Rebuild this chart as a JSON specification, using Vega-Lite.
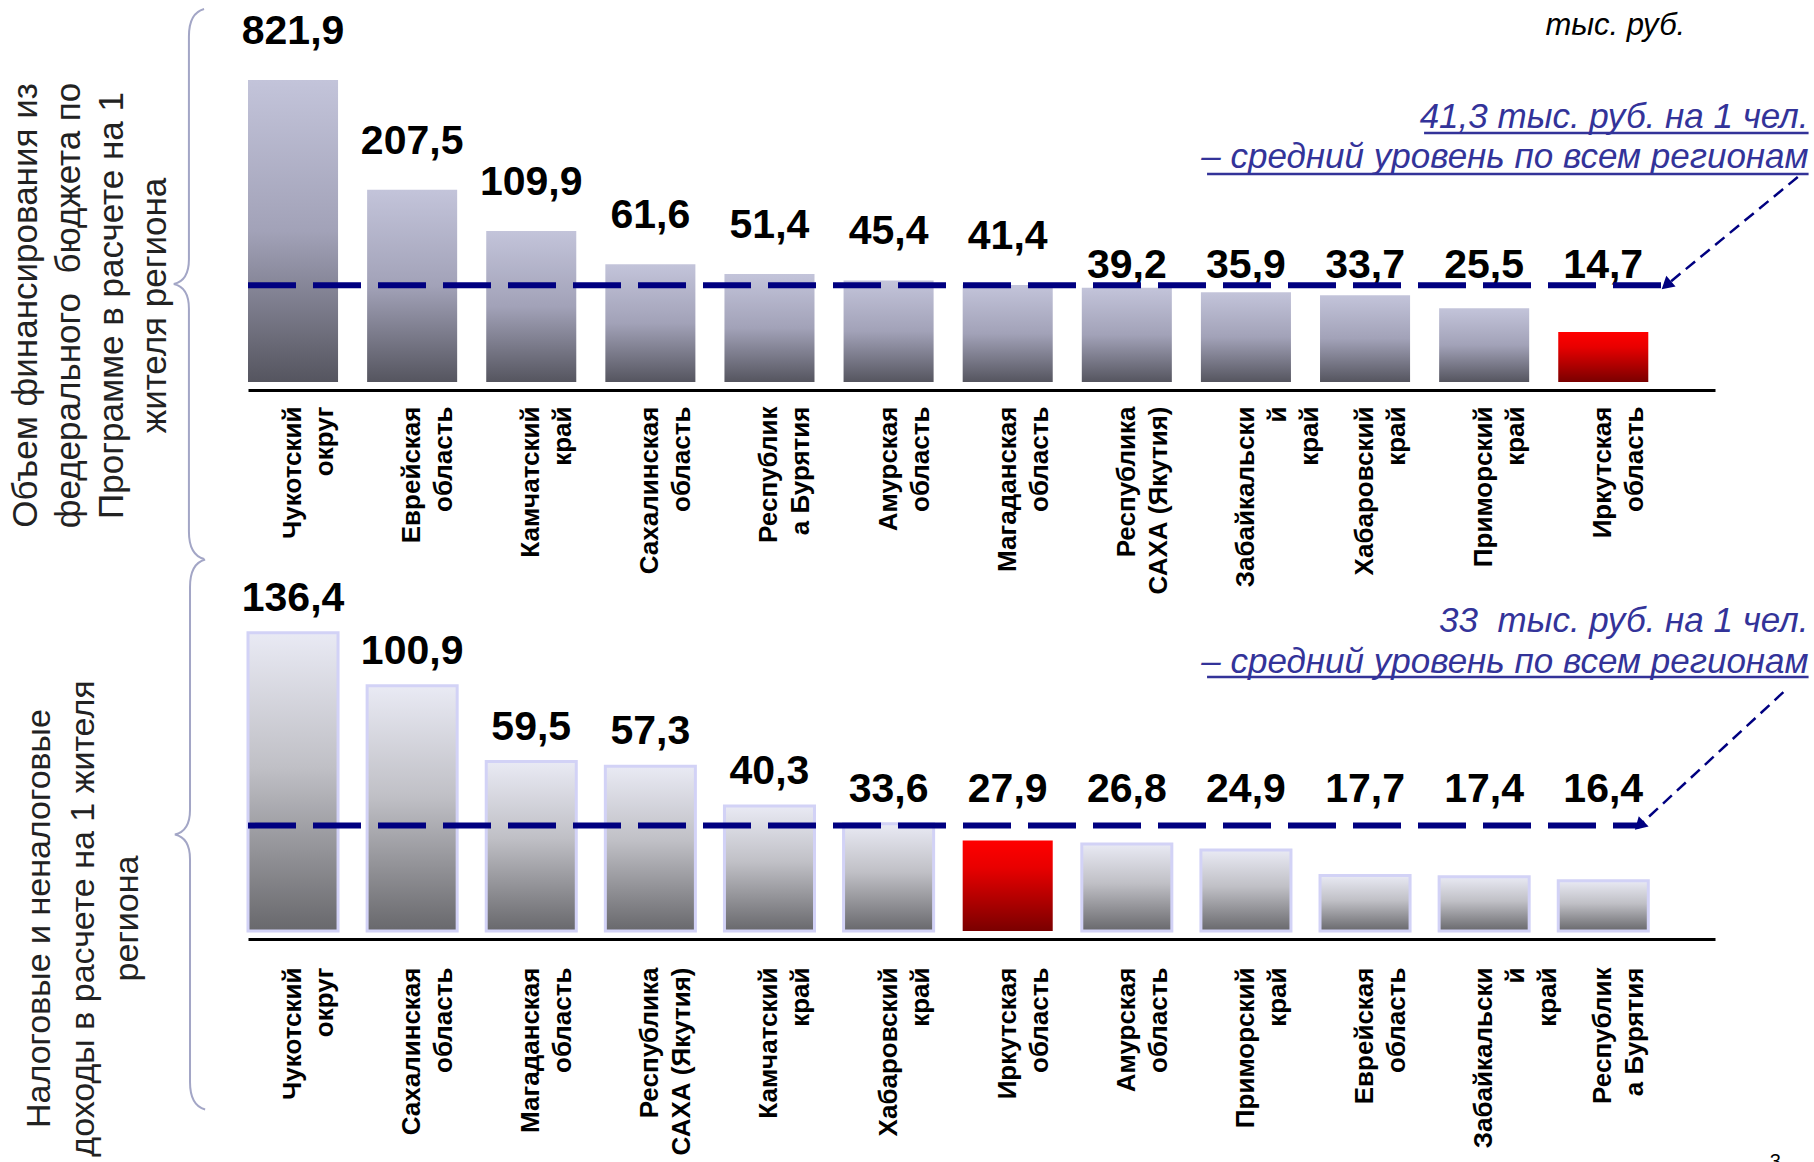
{
  "$schema": "https://vega.github.io/schema/vega-lite/v6.json",
  "background": "white",
  "padding": {"left": 7, "top": 4, "right": 5, "bottom": 5},
  "bounds": "flush",
  "spacing": 233,
  "config": {
    "view": {"stroke": null},
    "font": "Liberation Sans",
    "locale": {"number": {"decimal": ",", "thousands": " ", "grouping": [3], "currency": ["", ""]}}
  },
  "datasets": {
    "top": [
      {"region": "Чукотский округ", "value": 821.9},
      {"region": "Еврейская область", "value": 207.5},
      {"region": "Камчатский край", "value": 109.9},
      {"region": "Сахалинская область", "value": 61.6},
      {"region": "Республика Бурятия", "value": 51.4},
      {"region": "Амурская область", "value": 45.4},
      {"region": "Магаданская область", "value": 41.4},
      {"region": "Республика САХА (Якутия)", "value": 39.2},
      {"region": "Забайкальский край", "value": 35.9},
      {"region": "Хабаровский край", "value": 33.7},
      {"region": "Приморский край", "value": 25.5},
      {"region": "Иркутская область", "value": 14.7}
    ],
    "bottom": [
      {"region": "Чукотский округ", "value": 136.4},
      {"region": "Сахалинская область", "value": 100.9},
      {"region": "Магаданская область", "value": 59.5},
      {"region": "Республика САХА (Якутия)", "value": 57.3},
      {"region": "Камчатский край", "value": 40.3},
      {"region": "Хабаровский край", "value": 33.6},
      {"region": "Иркутская область", "value": 27.9},
      {"region": "Амурская область", "value": 26.8},
      {"region": "Приморский край", "value": 24.9},
      {"region": "Еврейская область", "value": 17.7},
      {"region": "Забайкальский край", "value": 17.4},
      {"region": "Республика Бурятия", "value": 16.4}
    ],
    "topAvg": [{"avg": 41.3}],
    "bottomAvg": [{"avg": 33}]
  },
  "vconcat": [
    {
      "width": 1467,
      "height": 316,
      "layer": [
        {
          "data": {"name": "top"},
          "transform": [{"filter": "datum.region !== 'Иркутская область'"}],
          "mark": {"type": "bar", "fill": {"gradient": "linear", "x1": 0, "y1": 0, "x2": 0, "y2": 1, "stops": [{"offset": 0, "color": "#c3c4da"}, {"offset": 0.5, "color": "#a2a2b8"}, {"offset": 1, "color": "#55555f"}]}},
          "encoding": {
            "x": {
              "field": "region", "type": "nominal",
              "scale": {"domain": ["Чукотский округ", "Еврейская область", "Камчатский край", "Сахалинская область", "Республика Бурятия", "Амурская область", "Магаданская область", "Республика САХА (Якутия)", "Забайкальский край", "Хабаровский край", "Приморский край", "Иркутская область"], "paddingInner": 0.244, "paddingOuter": 0.28, "align": 0},
              "axis": {"title": null, "labelAngle": 270, "labelAlign": "right", "labelBaseline": "middle", "labelFont": "Liberation Sans", "labelFontSize": 26, "labelFontWeight": "bold", "labelColor": "black", "labelLineHeight": 32, "labelPadding": 16, "labelLimit": 0, "labelOverlap": false, "labelFlush": false, "ticks": false, "domainColor": "black", "domainWidth": 3, "offset": 8,
                "labelExpr": "datum.value == 'Республика Бурятия' ? ['Республик', 'а Бурятия'] : datum.value == 'Забайкальский край' ? ['Забайкальски', 'й', 'край'] : datum.value == 'Республика САХА (Якутия)' ? ['Республика', 'САХА (Якутия)'] : split(datum.value, ' ')"}
            },
            "y": {
              "field": "value", "type": "quantitative",
              "scale": {"type": "pow", "exponent": 0.2, "domain": [3.6, 955.5], "nice": false, "zero": false},
              "axis": {"title": ["Объем финансирования из", "федерального\u00a0 бюджета по", "Программе в расчете на 1", "жителя региона"], "domain": false, "ticks": false, "labels": false, "grid": false, "titleAngle": 270, "titleX": -240, "titleY": 239, "titleAlign": "center", "titleBaseline": "top", "titleFontSize": 35, "titleFontWeight": "normal", "titleColor": "#222222", "titleLineHeight": 43, "titleFont": "Liberation Sans"}
            },
            "y2": {"datum": 3.6}
          }
        },
        {
          "data": {"name": "top"},
          "transform": [{"filter": "datum.region === 'Иркутская область'"}],
          "mark": {"type": "bar", "fill": {"gradient": "linear", "x1": 0, "y1": 0, "x2": 0, "y2": 1, "stops": [{"offset": 0, "color": "#ff0000"}, {"offset": 0.3, "color": "#e80000"}, {"offset": 1, "color": "#7a0000"}]}},
          "encoding": {"x": {"field": "region", "type": "nominal"}, "y": {"field": "value", "type": "quantitative"}, "y2": {"datum": 3.6}}
        },
        {
          "data": {"name": "top"},
          "transform": [{"filter": "datum.value >= 41.3"}],
          "mark": {"type": "text", "fontSize": 41, "fontWeight": "bold", "baseline": "alphabetic", "dy": -36, "color": "black", "font": "Liberation Sans"},
          "encoding": {"x": {"field": "region", "type": "nominal"}, "y": {"field": "value", "type": "quantitative"}, "text": {"field": "value", "type": "quantitative", "format": ".1f"}}
        },
        {
          "data": {"name": "top"},
          "transform": [{"filter": "datum.value < 41.3"}],
          "mark": {"type": "text", "fontSize": 41, "fontWeight": "bold", "baseline": "alphabetic", "dy": -7, "color": "black", "font": "Liberation Sans"},
          "encoding": {"x": {"field": "region", "type": "nominal"}, "y": {"datum": 41.3}, "text": {"field": "value", "type": "quantitative", "format": ".1f"}}
        },
        {
          "data": {"name": "topAvg"},
          "mark": {"type": "rule", "color": "#000080", "strokeWidth": 6, "strokeDash": [48, 17]},
          "encoding": {"x": {"datum": "Чукотский округ", "bandPosition": 0}, "x2": {"datum": "Иркутская область", "bandPosition": 1.2}, "y": {"field": "avg", "type": "quantitative"}}
        },
        {
          "data": {"values": [{}]},
          "mark": {"type": "rule", "color": "#000080", "strokeWidth": 2.5, "strokeDash": [12, 7]},
          "encoding": {"x": {"datum": "Иркутская область", "bandPosition": 2.66}, "y": {"datum": 248.4}, "x2": {"datum": "Иркутская область", "bandPosition": 1.2}, "y2": {"datum": 41.3}}
        },
        {
          "data": {"values": [{}]},
          "mark": {"type": "point", "shape": "triangle-up", "filled": true, "color": "#000080", "size": 200, "angle": 229, "opacity": 1},
          "encoding": {"x": {"datum": "Иркутская область", "bandPosition": 1.2}, "y": {"datum": 41.3}}
        },
        {
          "data": {"values": [{}]},
          "mark": {"type": "text", "align": "right", "baseline": "alphabetic", "fontSize": 35, "fontStyle": "italic", "color": "#333399", "lineHeight": 40, "font": "Liberation Sans"},
          "encoding": {"x": {"datum": "Иркутская область", "bandPosition": 2.78}, "y": {"datum": 471.1}, "text": {"value": ["41,3 тыс. руб. на 1 чел.", "– средний уровень по всем регионам"]}}
        },
        {
          "data": {"values": [{}]},
          "mark": {"type": "rule", "color": "#333399", "strokeWidth": 2.5},
          "encoding": {"x": {"datum": "Иркутская область", "bandPosition": -1.49}, "x2": {"datum": "Иркутская область", "bandPosition": 2.78}, "y": {"datum": 442.9}}
        },
        {
          "data": {"values": [{}]},
          "mark": {"type": "rule", "color": "#333399", "strokeWidth": 2.5},
          "encoding": {"x": {"datum": "Иркутская область", "bandPosition": -3.9}, "x2": {"datum": "Иркутская область", "bandPosition": 2.78}, "y": {"datum": 259}}
        },
        {
          "data": {"values": [{}]},
          "mark": {"type": "text", "align": "right", "baseline": "alphabetic", "fontSize": 31, "fontStyle": "italic", "color": "black", "font": "Liberation Sans"},
          "encoding": {"x": {"datum": "Иркутская область", "bandPosition": 1.41}, "y": {"datum": 1315.4}, "text": {"value": "тыс. руб."}}
        },
        {
          "data": {"values": [{}]},
          "mark": {"type": "point", "shape": "M0.055,-1Q0,-0.985 0,-0.9L0,-0.09Q0,-0.012 -0.055,0Q0,0.012 0,0.09L0,0.9Q0,0.985 0.055,1", "filled": false, "stroke": "#a3a6c6", "strokeWidth": 2, "size": 302500, "opacity": 1},
          "encoding": {"x": {"datum": "Чукотский округ", "bandPosition": -0.656}, "y": {"datum": 42.3}}
        }
      ]
    },
    {
      "width": 1467,
      "height": 316,
      "layer": [
        {
          "data": {"name": "bottom"},
          "transform": [{"filter": "datum.region !== 'Иркутская область'"}],
          "mark": {"type": "bar", "stroke": "#d2d2f6", "strokeWidth": 3, "fill": {"gradient": "linear", "x1": 0, "y1": 0, "x2": 0, "y2": 1, "stops": [{"offset": 0, "color": "#e9eaf4"}, {"offset": 0.45, "color": "#c0c0c6"}, {"offset": 1, "color": "#68686c"}]}},
          "encoding": {
            "x": {
              "field": "region", "type": "nominal",
              "scale": {"domain": ["Чукотский округ", "Сахалинская область", "Магаданская область", "Республика САХА (Якутия)", "Камчатский край", "Хабаровский край", "Иркутская область", "Амурская область", "Приморский край", "Еврейская область", "Забайкальский край", "Республика Бурятия"], "paddingInner": 0.244, "paddingOuter": 0.28, "align": 0},
              "axis": {"title": null, "labelAngle": 270, "labelAlign": "right", "labelBaseline": "middle", "labelFont": "Liberation Sans", "labelFontSize": 26, "labelFontWeight": "bold", "labelColor": "black", "labelLineHeight": 32, "labelPadding": 28, "labelLimit": 0, "labelOverlap": false, "labelFlush": false, "ticks": false, "domainColor": "black", "domainWidth": 3, "offset": 8,
                "labelExpr": "datum.value == 'Республика Бурятия' ? ['Республик', 'а Бурятия'] : datum.value == 'Забайкальский край' ? ['Забайкальски', 'й', 'край'] : datum.value == 'Республика САХА (Якутия)' ? ['Республика', 'САХА (Якутия)'] : split(datum.value, ' ')"}
            },
            "y": {
              "field": "value", "type": "quantitative",
              "scale": {"type": "sqrt", "domain": [6.25, 149.4], "nice": false, "zero": false},
              "axis": {"title": ["Налоговые и неналоговые", "доходы в расчете на 1 жителя", "региона"], "domain": false, "ticks": false, "labels": false, "grid": false, "titleAngle": 270, "titleX": -226, "titleY": 303, "titleAlign": "center", "titleBaseline": "top", "titleFontSize": 34, "titleFontWeight": "normal", "titleColor": "#222222", "titleLineHeight": 44, "titleFont": "Liberation Sans"}
            },
            "y2": {"datum": 6.25}
          }
        },
        {
          "data": {"name": "bottom"},
          "transform": [{"filter": "datum.region === 'Иркутская область'"}],
          "mark": {"type": "bar", "fill": {"gradient": "linear", "x1": 0, "y1": 0, "x2": 0, "y2": 1, "stops": [{"offset": 0, "color": "#ff0000"}, {"offset": 0.3, "color": "#e80000"}, {"offset": 1, "color": "#7a0000"}]}},
          "encoding": {"x": {"field": "region", "type": "nominal"}, "y": {"field": "value", "type": "quantitative"}, "y2": {"datum": 6.25}}
        },
        {
          "data": {"name": "bottom"},
          "transform": [{"filter": "datum.value >= 33"}],
          "mark": {"type": "text", "fontSize": 41, "fontWeight": "bold", "baseline": "alphabetic", "dy": -22, "color": "black", "font": "Liberation Sans"},
          "encoding": {"x": {"field": "region", "type": "nominal"}, "y": {"field": "value", "type": "quantitative"}, "text": {"field": "value", "type": "quantitative", "format": ".1f"}}
        },
        {
          "data": {"name": "bottom"},
          "transform": [{"filter": "datum.value < 33"}],
          "mark": {"type": "text", "fontSize": 41, "fontWeight": "bold", "baseline": "alphabetic", "dy": -24, "color": "black", "font": "Liberation Sans"},
          "encoding": {"x": {"field": "region", "type": "nominal"}, "y": {"datum": 33}, "text": {"field": "value", "type": "quantitative", "format": ".1f"}}
        },
        {
          "data": {"name": "bottomAvg"},
          "mark": {"type": "rule", "color": "#000080", "strokeWidth": 6, "strokeDash": [48, 17]},
          "encoding": {"x": {"datum": "Чукотский округ", "bandPosition": 0}, "x2": {"datum": "Республика Бурятия", "bandPosition": 0.9}, "y": {"field": "avg", "type": "quantitative"}}
        },
        {
          "data": {"values": [{}]},
          "mark": {"type": "rule", "color": "#000080", "strokeWidth": 2.5, "strokeDash": [12, 7]},
          "encoding": {"x": {"datum": "Республика Бурятия", "bandPosition": 2.5}, "y": {"datum": 97}, "x2": {"datum": "Республика Бурятия", "bandPosition": 0.9}, "y2": {"datum": 33}}
        },
        {
          "data": {"values": [{}]},
          "mark": {"type": "point", "shape": "triangle-up", "filled": true, "color": "#000080", "size": 200, "angle": 226, "opacity": 1},
          "encoding": {"x": {"datum": "Республика Бурятия", "bandPosition": 0.9}, "y": {"datum": 33}}
        },
        {
          "data": {"values": [{}]},
          "mark": {"type": "text", "align": "right", "baseline": "alphabetic", "fontSize": 35, "fontStyle": "italic", "color": "#333399", "lineHeight": 41, "font": "Liberation Sans"},
          "encoding": {"x": {"datum": "Республика Бурятия", "bandPosition": 2.78}, "y": {"datum": 136.9}, "text": {"value": ["33\u00a0 тыс. руб. на 1 чел.", "– средний уровень по всем регионам"]}}
        },
        {
          "data": {"values": [{}]},
          "mark": {"type": "rule", "color": "#333399", "strokeWidth": 2.5},
          "encoding": {"x": {"datum": "Республика Бурятия", "bandPosition": -3.9}, "x2": {"datum": "Республика Бурятия", "bandPosition": 2.78}, "y": {"datum": 106.4}}
        },
        {
          "data": {"values": [{}]},
          "mark": {"type": "text", "align": "center", "baseline": "alphabetic", "fontSize": 20, "color": "black", "font": "Liberation Sans"},
          "encoding": {"x": {"datum": "Республика Бурятия", "bandPosition": 2.41}, "y": {"datum": -22.97}, "text": {"value": "3"}}
        },
        {
          "data": {"values": [{}]},
          "mark": {"type": "point", "shape": "M0.055,-1Q0,-0.985 0,-0.9L0,-0.09Q0,-0.012 -0.055,0Q0,0.012 0,0.09L0,0.9Q0,0.985 0.055,1", "filled": false, "stroke": "#a3a6c6", "strokeWidth": 2, "size": 302500, "opacity": 1},
          "encoding": {"x": {"datum": "Чукотский округ", "bandPosition": -0.644}, "y": {"datum": 29.9}}
        }
      ]
    }
  ]
}
